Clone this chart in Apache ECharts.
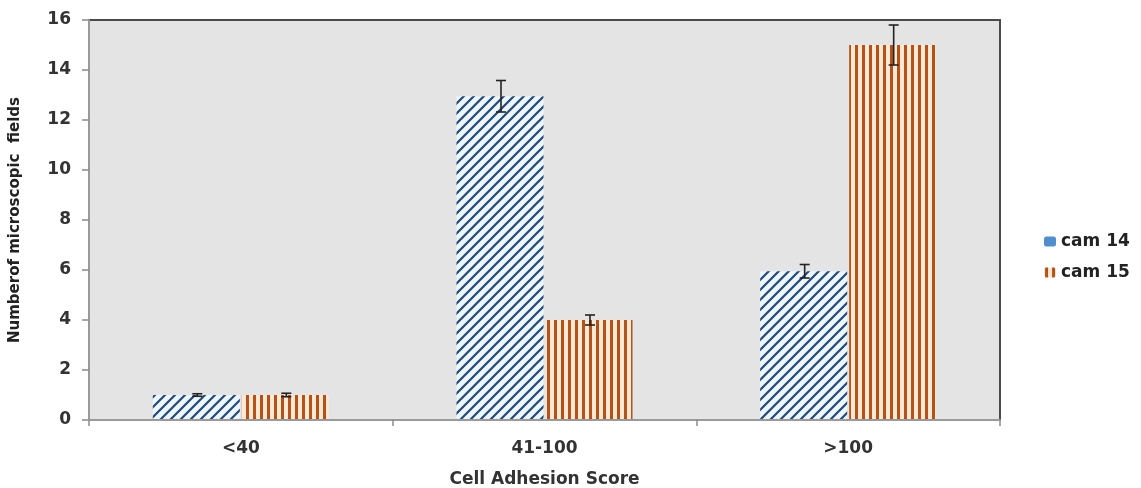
<!DOCTYPE html>
<html>
<head>
<meta charset="utf-8">
<script src="https://cdn.jsdelivr.net/npm/echarts@6/dist/echarts.min.js"></script>
<style>
  html, body { margin: 0; padding: 0; background: #fff; }
  #chart { width: 1141px; height: 488px; }
</style>
</head>
<body>
<div id="chart"></div>
<script>
// datos
var categories = ['<40', '41-100', '>100'];
var cam14 = [1, 12.95, 5.95];
var cam14Err = [0.05, 0.63, 0.27];
var cam15 = [1, 4, 15];
var cam15Err = [0.07, 0.2, 0.8];
var yTicks = [0, 2, 4, 6, 8, 10, 12, 14, 16];

// tramas de relleno
const diagPattern = () => {
  const s = 10;
  const c = document.createElement('canvas');
  c.width = s; c.height = s;
  const g = c.getContext('2d');
  g.fillStyle = '#edf6fd';
  g.fillRect(0, 0, s, s);
  g.strokeStyle = '#214a76';
  g.lineWidth = 2.2;
  g.beginPath();
  g.moveTo(-2, s + 2); g.lineTo(s + 2, -2);
  g.moveTo(-2, 2); g.lineTo(2, -2);
  g.moveTo(s - 2, s + 2); g.lineTo(s + 2, s - 2);
  g.stroke();
  return c;
};

const vertPattern = () => {
  const c = document.createElement('canvas');
  c.width = 7; c.height = 4;
  const g = c.getContext('2d');
  g.fillStyle = '#fde9d3';
  g.fillRect(0, 0, 7, 4);
  g.fillStyle = '#b3521b';
  g.fillRect(1, 0, 3, 4);
  return c;
};

var barW = 87;
var gapPx = 2;

const errorSeries = (name, values, errs, side) => ({
  name: name,
  type: 'custom',
  silent: true,
  z: 10,
  data: values.map((v, i) => [i, v, errs[i]]),
  renderItem: (params, api) => {
    const i = api.value(0), v = api.value(1), e = api.value(2);
    const top = api.coord([i, v + e]);
    const bot = api.coord([i, v - e]);
    const x = top[0] + side * (barW + gapPx) / 2 + 1;
    const cap = 5;
    const st = { stroke: '#222', lineWidth: 1.6 };
    return {
      type: 'group',
      children: [
        { type: 'line', shape: { x1: x, y1: top[1], x2: x, y2: bot[1] }, style: st },
        { type: 'line', shape: { x1: x - cap, y1: top[1], x2: x + cap, y2: top[1] }, style: st },
        { type: 'line', shape: { x1: x - cap, y1: bot[1], x2: x + cap, y2: bot[1] }, style: st }
      ]
    };
  }
});

const getOption = () => {
  const p14 = { image: diagPattern(), repeat: 'repeat' };
  const p15 = { image: vertPattern(), repeat: 'repeat' };
  const fam = '"DejaVu Sans", "Open Sans", sans-serif';
  const frame = { show: true, onZero: false, lineStyle: { color: '#4a4a4a', width: 2 } };
  return {
    backgroundColor: '#fff',
    animation: false,
    grid: {
      left: 89, right: 141, top: 20, bottom: 68,
      outerBoundsMode: 'none',
      show: true,
      backgroundColor: '#e4e4e4',
      borderWidth: 0
    },
    legend: {
      orient: 'vertical',
      left: 1039,
      top: 228,
      itemWidth: 12,
      itemHeight: 10,
      itemGap: 14,
      textStyle: { fontFamily: fam, fontWeight: 'bold', fontSize: 17, color: '#222' },
      data: [
        { name: 'cam 14', itemStyle: { color: '#4f8fcf' } },
        { name: 'cam 15', itemStyle: { color: p15 } }
      ]
    },
    xAxis: [
      {
        type: 'category',
        data: categories,
        name: 'Cell Adhesion Score',
        nameLocation: 'middle',
        nameGap: 51,
        nameTextStyle: { fontFamily: fam, fontWeight: 'bold', fontSize: 17, color: '#333' },
        axisLine: { lineStyle: { color: '#9a9a9a', width: 2 } },
        axisTick: { show: true, length: 6, lineStyle: { color: '#8a8a8a', width: 1.5 } },
        axisLabel: { fontFamily: fam, fontWeight: 'bold', fontSize: 17, color: '#333', margin: 20 },
        z: 5
      },
      {
        type: 'category',
        data: categories,
        position: 'top',
        axisLine: frame,
        axisTick: { show: false },
        axisLabel: { show: false }
      }
    ],
    yAxis: [
      {
        type: 'value',
        min: yTicks[0],
        max: yTicks[yTicks.length - 1],
        interval: 2,
        name: 'Numberof microscopic  fields',
        nameLocation: 'middle',
        nameGap: 66,
        nameTextStyle: { fontFamily: fam, fontWeight: 'bold', fontSize: 15, color: '#222' },
        axisLine: { show: true, lineStyle: { color: '#9a9a9a', width: 2 } },
        axisTick: { show: true, length: 7, lineStyle: { color: '#8a8a8a', width: 1.5 } },
        splitLine: { show: false },
        axisLabel: { fontFamily: fam, fontWeight: 'bold', fontSize: 17, color: '#333', margin: 18 },
        z: 5
      },
      {
        type: 'value',
        position: 'right',
        min: yTicks[0],
        max: yTicks[yTicks.length - 1],
        interval: 2,
        axisLine: frame,
        axisTick: { show: false },
        axisLabel: { show: false },
        splitLine: { show: false }
      }
    ],
    series: [
      {
        name: 'cam 14',
        type: 'bar',
        data: cam14,
        barWidth: barW,
        barGap: (gapPx / barW * 100) + '%',
        itemStyle: { color: p14 }
      },
      {
        name: 'cam 15',
        type: 'bar',
        data: cam15,
        barWidth: barW,
        itemStyle: { color: p15 }
      },
      errorSeries('cam14err', cam14, cam14Err, -1),
      errorSeries('cam15err', cam15, cam15Err, 1)
    ]
  };
};

window.addEventListener('load', () => {
  const chart = echarts.init(document.getElementById('chart'));
  chart.setOption(getOption());
});
</script>
</body>
</html>
